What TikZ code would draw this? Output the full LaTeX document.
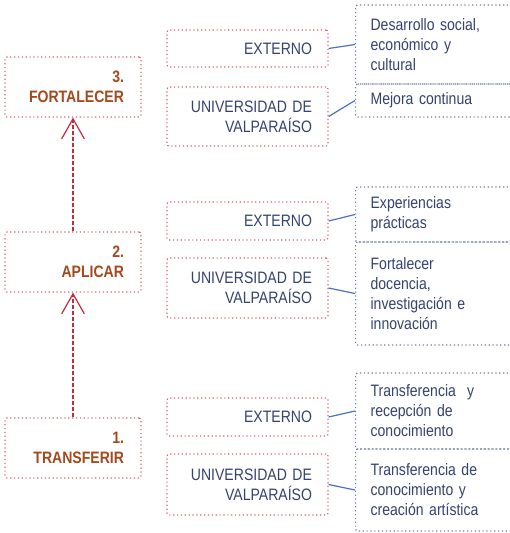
\documentclass[tikz,border=0pt]{standalone}
\usepackage{fontspec}
\setmainfont[FakeStretch=0.85]{Liberation Sans}
\usepackage{tikz}
\usetikzlibrary{arrows.meta}

\definecolor{ocre}{HTML}{A5481C}
\definecolor{navy}{HTML}{34426E}
\definecolor{dotred}{HTML}{E0606E}
\definecolor{arrowred}{HTML}{C8283A}
\definecolor{linkblue}{HTML}{4A72C0}
\definecolor{dotgray}{HTML}{6E7C99}

\tikzset{
  stage/.style={draw=dotred, dotted, line width=0.9pt, rounded corners=1.5pt,
    text width=76.5pt, inner xsep=12.75pt, minimum height=45pt, align=right,
    text=ocre, font=\bfseries\fontsize{12.4}{15}\selectfont},
  actor/.style={draw=dotred, dotted, line width=0.9pt, rounded corners=1.5pt,
    text width=96.75pt, inner xsep=12pt, align=right,
    text=navy, font=\fontsize{12.4}{15}\selectfont},
  result/.style={draw=dotgray, dotted, line width=0.9pt, rounded corners=1.5pt,
    anchor=west, text width=105pt, inner xsep=11.25pt, align=left,
    text=navy, font=\fontsize{12.4}{15}\selectfont},
  link/.style={linkblue, line width=0.9pt},
  up/.style={arrowred, line width=0.9pt, dash pattern=on 3pt off 1.5pt,
    -{Straight Barb[length=15pt, width=17pt, line width=0.9pt]}}
}

\begin{document}
\begin{tikzpicture}[x=0.75pt, y=-0.75pt]
\useasboundingbox (0,0) rectangle (510,533);
\clip (0,0) rectangle (510,533);

% stages
\draw (73,87)  node (fort) [stage] {3.\\FORTALECER};
\draw (73,262) node (apli) [stage] {2.\\APLICAR};
\draw (73,448) node (tran) [stage] {1.\\TRANSFERIR};
\draw[up] (apli.north) -- (fort.south);
\draw[up] (tran.north) -- (apli.south);

% fortalecer
\draw (247.5,48.5)  node (ext1) [actor, minimum height=27.75pt] {EXTERNO};
\draw (247.5,116.5) node (uv1)  [actor, minimum height=44.25pt] {UNIVERSIDAD DE\\VALPARAÍSO};
\draw (355,44.5)  node (res1a) [result, minimum height=59.25pt] {Desarrollo social,\\económico y\\cultural};
\draw (355,100.5) node (res1b) [result, minimum height=24.75pt] {Mejora continua};
\draw[link] (ext1.east) -- (res1a.west);
\draw[link] (uv1.east) -- (res1b.west);

% aplicar
\draw (247.5,221) node (ext2) [actor, minimum height=28.5pt] {EXTERNO};
\draw (247.5,288) node (uv2)  [actor, minimum height=45pt] {UNIVERSIDAD DE\\VALPARAÍSO};
\draw (355,214.5) node (res2a) [result, minimum height=41.25pt] {Experiencias\\prácticas};
\draw (355,293.5) node (res2b) [result, minimum height=77.25pt] {Fortalecer\\docencia,\\investigación e\\innovación};
\draw[link] (ext2.east) -- (res2a.west);
\draw[link] (uv2.east) -- (res2b.west);

% transferir
\draw (247.5,417)   node (ext3) [actor, minimum height=28.5pt] {EXTERNO};
\draw (247.5,484.5) node (uv3)  [actor, minimum height=45.75pt] {UNIVERSIDAD DE\\VALPARAÍSO};
\draw (355,411) node (res3a) [result, minimum height=57pt] {Transferencia~~y\\recepción de\\conocimiento};
\draw (355,490) node (res3b) [result, minimum height=61.5pt] {Transferencia de\\conocimiento y\\creación artística};
\draw[link] (ext3.east) -- (res3a.west);
\draw[link] (uv3.east) -- (res3b.west);

\end{tikzpicture}
\end{document}
